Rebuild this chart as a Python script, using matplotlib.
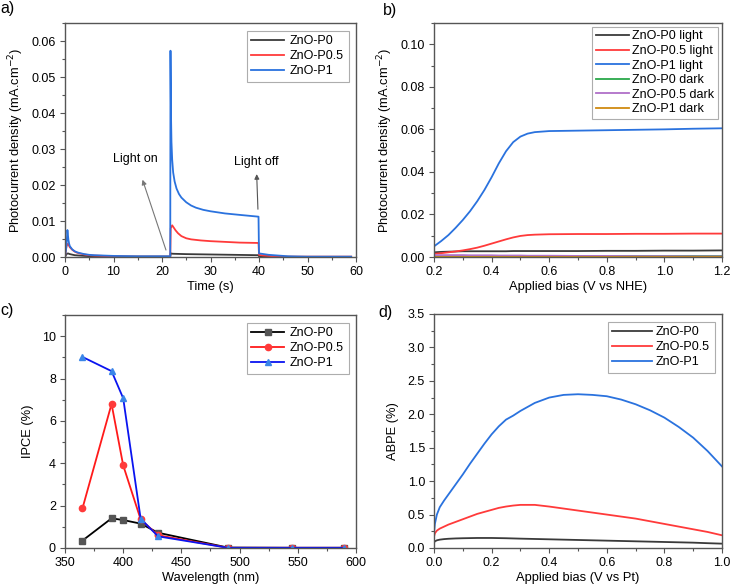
import matplotlib
matplotlib.use("Agg")
import matplotlib.pyplot as plt
from matplotlib.ticker import MultipleLocator, FormatStrFormatter

plt.rcParams['font.family'] = ['Liberation Sans', 'DejaVu Sans']

# ---------- Panel a: transient photocurrent ----------
t_p0 = [0, 0.3, 0.6, 1, 2, 4, 8, 15, 21.7, 21.8, 22.2, 25, 30, 35, 39.9, 40.0, 42, 50, 59]
j_p0 = [0, 0.0008, 0.0010, 0.0008, 0.0005, 0.0003, 0.0001, 0.0001, 0.0001, 0.0010, 0.0009, 0.0008, 0.0007, 0.0006, 0.0005, 0.0002, 0.0001, 0.0, 0.0]
t_p05 = [0, 0.3, 0.6, 0.8, 1, 1.5, 2, 2.5, 3, 4, 5, 6, 8, 10, 15, 21.7, 21.8, 22.1, 22.4, 22.8, 23.3, 24, 25, 26, 28, 30, 33, 36, 39.9, 40.0, 40.5, 41, 42, 43, 45, 50, 59]
j_p05 = [0, 0.0030, 0.0037, 0.0032, 0.0027, 0.0020, 0.0015, 0.0012, 0.0010, 0.0007, 0.0005, 0.0004, 0.0003, 0.0002, 0.0001, 0.0001, 0.0080, 0.0088, 0.0082, 0.0074, 0.0066, 0.0058, 0.0052, 0.0049, 0.0046, 0.0044, 0.0042, 0.0040, 0.0039, 0.0006, 0.0005, 0.0004, 0.0003, 0.0002, 0.0001, 0.0001, 0.0001]
t_p1 = [0, 0.3, 0.5, 0.7, 0.85, 1, 1.5, 2, 2.5, 3, 4, 5, 6, 8, 10, 15, 21.7, 21.75, 21.85, 21.95, 22.1, 22.3, 22.6, 23, 23.5, 24, 25, 26, 27, 28.5, 30, 33, 36, 39.9, 40.0, 40.5, 41, 42, 43, 44, 46, 50, 59]
j_p1 = [0, 0.0030, 0.0075, 0.0048, 0.0037, 0.0030, 0.0021, 0.0016, 0.0013, 0.0011, 0.0008, 0.0006, 0.0005, 0.0004, 0.0003, 0.0002, 0.0002, 0.0573, 0.0400, 0.0320, 0.0270, 0.0235, 0.0210, 0.0190, 0.0175, 0.0165, 0.0152, 0.0143, 0.0137, 0.0131, 0.0127, 0.0121, 0.0117, 0.0112, 0.0010, 0.0009, 0.0008, 0.0006, 0.0005, 0.0004, 0.0002, 0.0001, 0.0001]

# ---------- Panel b: LSV ----------
v_b = [0.2, 0.225, 0.25, 0.275, 0.3, 0.325, 0.35, 0.375, 0.4, 0.425, 0.45, 0.475, 0.5, 0.525, 0.55, 0.6, 0.7, 0.8, 0.9, 1.0, 1.1, 1.2]
p0_light = [0.0022, 0.0024, 0.0025, 0.0026, 0.0027, 0.0027, 0.0027, 0.0027, 0.0027, 0.0027, 0.0027, 0.0028, 0.0028, 0.0028, 0.0028, 0.0028, 0.0028, 0.0029, 0.0029, 0.0030, 0.0030, 0.0031]
p05_light = [0.0015, 0.0018, 0.0022, 0.0026, 0.0031, 0.0037, 0.0044, 0.0053, 0.0063, 0.0073, 0.0083, 0.0092, 0.0099, 0.0103, 0.0105, 0.0107, 0.0108, 0.0108, 0.0109, 0.0109, 0.0110, 0.0110]
p1_light = [0.0050, 0.0075, 0.0103, 0.0137, 0.0174, 0.0215, 0.0262, 0.0315, 0.0375, 0.0440, 0.0497, 0.0540, 0.0566, 0.0580, 0.0587, 0.0592, 0.0594, 0.0596, 0.0598, 0.0600, 0.0603, 0.0605]
p0_dark = [0.0004] * 22
p05_dark = [0.0009, 0.0009, 0.0009, 0.0009, 0.0009, 0.0008, 0.0008, 0.0008, 0.0008, 0.0007, 0.0007, 0.0007, 0.0007, 0.0006, 0.0006, 0.0006, 0.0005, 0.0005, 0.0004, 0.0004, 0.0003, 0.0003]
p1_dark = [0.0002] * 22

# ---------- Panel c: IPCE ----------
wl = [365, 390, 400, 415, 430, 490, 545, 590]
ipce_p0 = [0.35, 1.40, 1.32, 1.15, 0.72, 0.02, 0.01, 0.01]
ipce_p05 = [1.87, 6.80, 3.90, 1.35, 0.60, 0.01, 0.01, 0.01]
ipce_p1 = [9.02, 8.35, 7.07, 1.38, 0.55, 0.01, 0.01, 0.01]

# ---------- Panel d: ABPE ----------
v_d = [0.0, 0.003, 0.01, 0.02, 0.035, 0.05, 0.075, 0.1, 0.125, 0.15, 0.175, 0.2, 0.225, 0.25, 0.275, 0.3, 0.35, 0.4, 0.45, 0.5, 0.55, 0.6, 0.65, 0.7, 0.75, 0.8, 0.85, 0.9, 0.95, 1.0]
abpe_p0 = [0.08, 0.10, 0.115, 0.125, 0.133, 0.138, 0.143, 0.146, 0.148, 0.15, 0.15, 0.15, 0.148, 0.146, 0.143, 0.14, 0.135, 0.13, 0.125, 0.12, 0.115, 0.11, 0.105, 0.10, 0.095, 0.09, 0.085, 0.08, 0.072, 0.065]
abpe_p05 = [0.17, 0.22, 0.26, 0.29, 0.32, 0.35, 0.39, 0.43, 0.47, 0.51, 0.54, 0.57, 0.60, 0.62, 0.635, 0.645, 0.645, 0.62, 0.59, 0.56, 0.53, 0.50, 0.47, 0.44, 0.40, 0.36, 0.32, 0.28, 0.24, 0.19]
abpe_p1 = [0.22, 0.36, 0.50, 0.61, 0.71, 0.80, 0.95, 1.10, 1.26, 1.41, 1.56, 1.70, 1.82, 1.92, 1.98, 2.05, 2.17, 2.25, 2.29, 2.30, 2.29, 2.27, 2.22, 2.15, 2.06, 1.95, 1.81, 1.65, 1.45, 1.22]

BLACK = '#3a3a3a'
RED = '#ff3a3a'
BLUE = '#2a72de'
SPINE = '#555555'

W, H = 732, 586
fig = plt.figure(figsize=(W / 100, H / 100), dpi=100)


def add_ax(x0, y0, x1, y1):
    return fig.add_axes([x0 / W, 1 - y1 / H, (x1 - x0) / W, (y1 - y0) / H])


TFS = 9
LFS = 9.3
LEGFS = 9


def style(ax):
    for s in ax.spines.values():
        s.set_color(SPINE)
        s.set_linewidth(1.0)
    ax.tick_params(which='both', direction='out', top=False, right=False,
                   color=SPINE, labelsize=TFS, labelcolor='black')
    ax.tick_params(which='major', length=3.5, width=0.8, pad=3)
    ax.tick_params(which='minor', length=2, width=0.8)


def legend(ax, **kw):
    opts = dict(loc='upper right', fontsize=LEGFS, frameon=True, fancybox=False,
                edgecolor='#999999', handlelength=2.6, borderpad=0.35,
                labelspacing=0.25, handletextpad=0.5, borderaxespad=0.6)
    opts.update(kw)
    leg = ax.legend(**opts)
    leg.get_frame().set_linewidth(0.8)
    return leg


# a
ax = add_ax(65, 23, 356, 257)
ax.plot(t_p0, j_p0, color=BLACK, lw=1.3, label='ZnO-P0')
ax.plot(t_p05, j_p05, color=RED, lw=1.3, label='ZnO-P0.5')
ax.plot(t_p1, j_p1, color=BLUE, lw=1.3, label='ZnO-P1')
ax.set_xlim(0, 60)
ax.set_ylim(0, 0.065)
ax.xaxis.set_major_locator(MultipleLocator(10))
ax.xaxis.set_minor_locator(MultipleLocator(5))
ax.yaxis.set_major_locator(MultipleLocator(0.01))
ax.yaxis.set_minor_locator(MultipleLocator(0.005))
ax.yaxis.set_major_formatter(FormatStrFormatter('%.2f'))
style(ax)
ax.set_xlabel('Time (s)', fontsize=LFS, labelpad=2)
ax.set_ylabel('Photocurrent density (mA.cm$^{-2}$)', fontsize=LFS, labelpad=4)
legend(ax)
ax.annotate('', xy=(15.8, 0.0222), xytext=(21.0, 0.0012),
            arrowprops=dict(arrowstyle='-|>', color='#777777', lw=0.8, mutation_scale=7))
ax.text(14.5, 0.0272, 'Light on', fontsize=LEGFS, ha='center', va='center')
ax.annotate('', xy=(39.5, 0.0238), xytext=(39.8, 0.0125),
            arrowprops=dict(arrowstyle='-|>', color='#555555', lw=0.8, mutation_scale=7))
ax.text(39.5, 0.0264, 'Light off', fontsize=LEGFS, ha='center', va='center')
fig.text(0 / W, 1 - 9 / H, 'a)', fontsize=11.5, va='center', ha='left')

# b
ax = add_ax(434, 23, 722, 257)
ax.plot(v_b, p0_light, color=BLACK, lw=1.3, label='ZnO-P0 light')
ax.plot(v_b, p05_light, color=RED, lw=1.3, label='ZnO-P0.5 light')
ax.plot(v_b, p1_light, color=BLUE, lw=1.3, label='ZnO-P1 light')
ax.plot(v_b, p0_dark, color='#2aa84a', lw=1.3, label='ZnO-P0 dark')
ax.plot(v_b, p05_dark, color='#b070c8', lw=1.3, label='ZnO-P0.5 dark')
ax.plot(v_b, p1_dark, color='#d08a10', lw=1.3, label='ZnO-P1 dark')
ax.set_xlim(0.2, 1.2)
ax.set_ylim(0, 0.11)
ax.xaxis.set_major_locator(MultipleLocator(0.2))
ax.xaxis.set_minor_locator(MultipleLocator(0.1))
ax.xaxis.set_major_formatter(FormatStrFormatter('%.1f'))
ax.yaxis.set_major_locator(MultipleLocator(0.02))
ax.yaxis.set_minor_locator(MultipleLocator(0.01))
ax.yaxis.set_major_formatter(FormatStrFormatter('%.2f'))
style(ax)
ax.set_xlabel('Applied bias (V vs NHE)', fontsize=LFS, labelpad=2)
ax.set_ylabel('Photocurrent density (mA.cm$^{-2}$)', fontsize=LFS, labelpad=4)
legend(ax, borderpad=0.3, labelspacing=0.2, handletextpad=0.3, borderaxespad=0.3)
fig.text(383 / W, 1 - 10 / H, 'b)', fontsize=11.5, va='center', ha='left')

# c
ax = add_ax(65, 315, 356, 548)
ax.plot(wl, ipce_p0, color='black', lw=1.3, marker='s', ms=4.5,
        mfc='#555555', mec='#555555', label='ZnO-P0')
ax.plot(wl, ipce_p05, color='#ff1a1a', lw=1.3, marker='o', ms=4.5,
        mfc='#ff3a3a', mec='#ff3a3a', label='ZnO-P0.5')
ax.plot(wl, ipce_p1, color='#0a14f0', lw=1.3, marker='^', ms=5,
        mfc='#3a86e8', mec='#3a86e8', label='ZnO-P1')
ax.set_xlim(350, 600)
ax.set_ylim(0, 11)
ax.xaxis.set_major_locator(MultipleLocator(50))
ax.xaxis.set_minor_locator(MultipleLocator(25))
ax.yaxis.set_major_locator(MultipleLocator(2))
ax.yaxis.set_minor_locator(MultipleLocator(1))
style(ax)
ax.set_xlabel('Wavelength (nm)', fontsize=LFS, labelpad=2)
ax.set_ylabel('IPCE (%)', fontsize=LFS, labelpad=6)
legend(ax)
fig.text(0 / W, 1 - 311 / H, 'c)', fontsize=11.5, va='center', ha='left')

# d
ax = add_ax(434, 314, 722, 548)
ax.plot(v_d, abpe_p0, color=BLACK, lw=1.3, label='ZnO-P0')
ax.plot(v_d, abpe_p05, color=RED, lw=1.3, label='ZnO-P0.5')
ax.plot(v_d, abpe_p1, color=BLUE, lw=1.3, label='ZnO-P1')
ax.set_xlim(0, 1.0)
ax.set_ylim(0, 3.5)
ax.xaxis.set_major_locator(MultipleLocator(0.2))
ax.xaxis.set_minor_locator(MultipleLocator(0.1))
ax.xaxis.set_major_formatter(FormatStrFormatter('%.1f'))
ax.yaxis.set_major_locator(MultipleLocator(0.5))
ax.yaxis.set_minor_locator(MultipleLocator(0.25))
ax.yaxis.set_major_formatter(FormatStrFormatter('%.1f'))
style(ax)
ax.set_xlabel('Applied bias (V vs Pt)', fontsize=LFS, labelpad=2)
ax.set_ylabel('ABPE (%)', fontsize=LFS, labelpad=6)
legend(ax, handlelength=3.2, handletextpad=0.3)
fig.text(378 / W, 1 - 312 / H, 'd)', fontsize=11.5, va='center', ha='left')

fig.savefig('out.png', dpi=100)
